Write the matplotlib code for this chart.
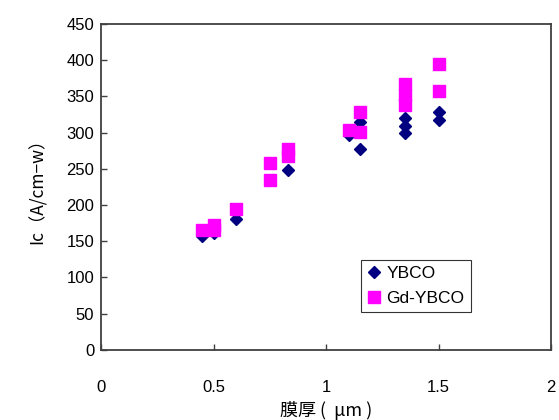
import matplotlib
matplotlib.use("Agg")
import matplotlib.pyplot as plt

plt.rcParams["font.family"] = ["Liberation Sans", "Noto Sans CJK JP", "DejaVu Sans"]
plt.rcParams["font.size"] = 12

# film thickness (um) vs Ic (A/cm-w)
ybco_x = [0.45, 0.5, 0.5, 0.6, 0.83, 1.1, 1.15, 1.15, 1.35, 1.35, 1.35, 1.5, 1.5]
ybco_y = [157, 161, 165, 181, 248, 297, 314, 278, 320, 309, 299, 329, 318]
gd_x = [0.45, 0.5, 0.5, 0.6, 0.75, 0.75, 0.83, 0.83, 1.1, 1.15, 1.15,
        1.35, 1.35, 1.35, 1.5, 1.5]
gd_y = [165, 172, 165, 195, 258, 235, 277, 268, 304, 329, 301,
        367, 352, 338, 395, 358]

fig = plt.figure(figsize=(5.59, 4.20), dpi=100)
ax = fig.add_axes([0.181, 0.167, 0.805, 0.776])

ax.plot(ybco_x, ybco_y, ls="none", marker="D", ms=6.2, color="#000080",
        mec="#000080", label="YBCO")
ax.plot(gd_x, gd_y, ls="none", marker="s", ms=8.4, color="#FF00FF",
        mec="#FF00FF", label="Gd-YBCO")

ax.set_xlim(0, 2)
ax.set_ylim(0, 450)
ax.set_xticks([0, 0.5, 1, 1.5, 2])
ax.set_xticklabels(["0", "0.5", "1", "1.5", "2"])
ax.set_yticks(range(0, 451, 50))
ax.tick_params(direction="in", length=4, width=1, color="#404040", pad=5)
ax.tick_params(axis="x", pad=22)
for s in ax.spines.values():
    s.set_color("#404040")
    s.set_linewidth(1.3)

ax.set_xlabel("膜厚 (  μm )", family=["Noto Sans CJK JP"], fontsize=13,
              labelpad=4)
ax.set_ylabel("Ic（A/cm−w）", family=["Noto Sans CJK JP"], fontsize=12.5,
              labelpad=14)

leg = ax.legend(loc="upper left", bbox_to_anchor=(0.578, 0.275), frameon=True,
                fancybox=False, edgecolor="black", handlelength=0.8,
                handletextpad=0.3, borderpad=0.35, labelspacing=0.55,
                borderaxespad=0, fontsize=12.5)
leg.get_frame().set_linewidth(0.8)

fig.savefig("out.png", dpi=100)
